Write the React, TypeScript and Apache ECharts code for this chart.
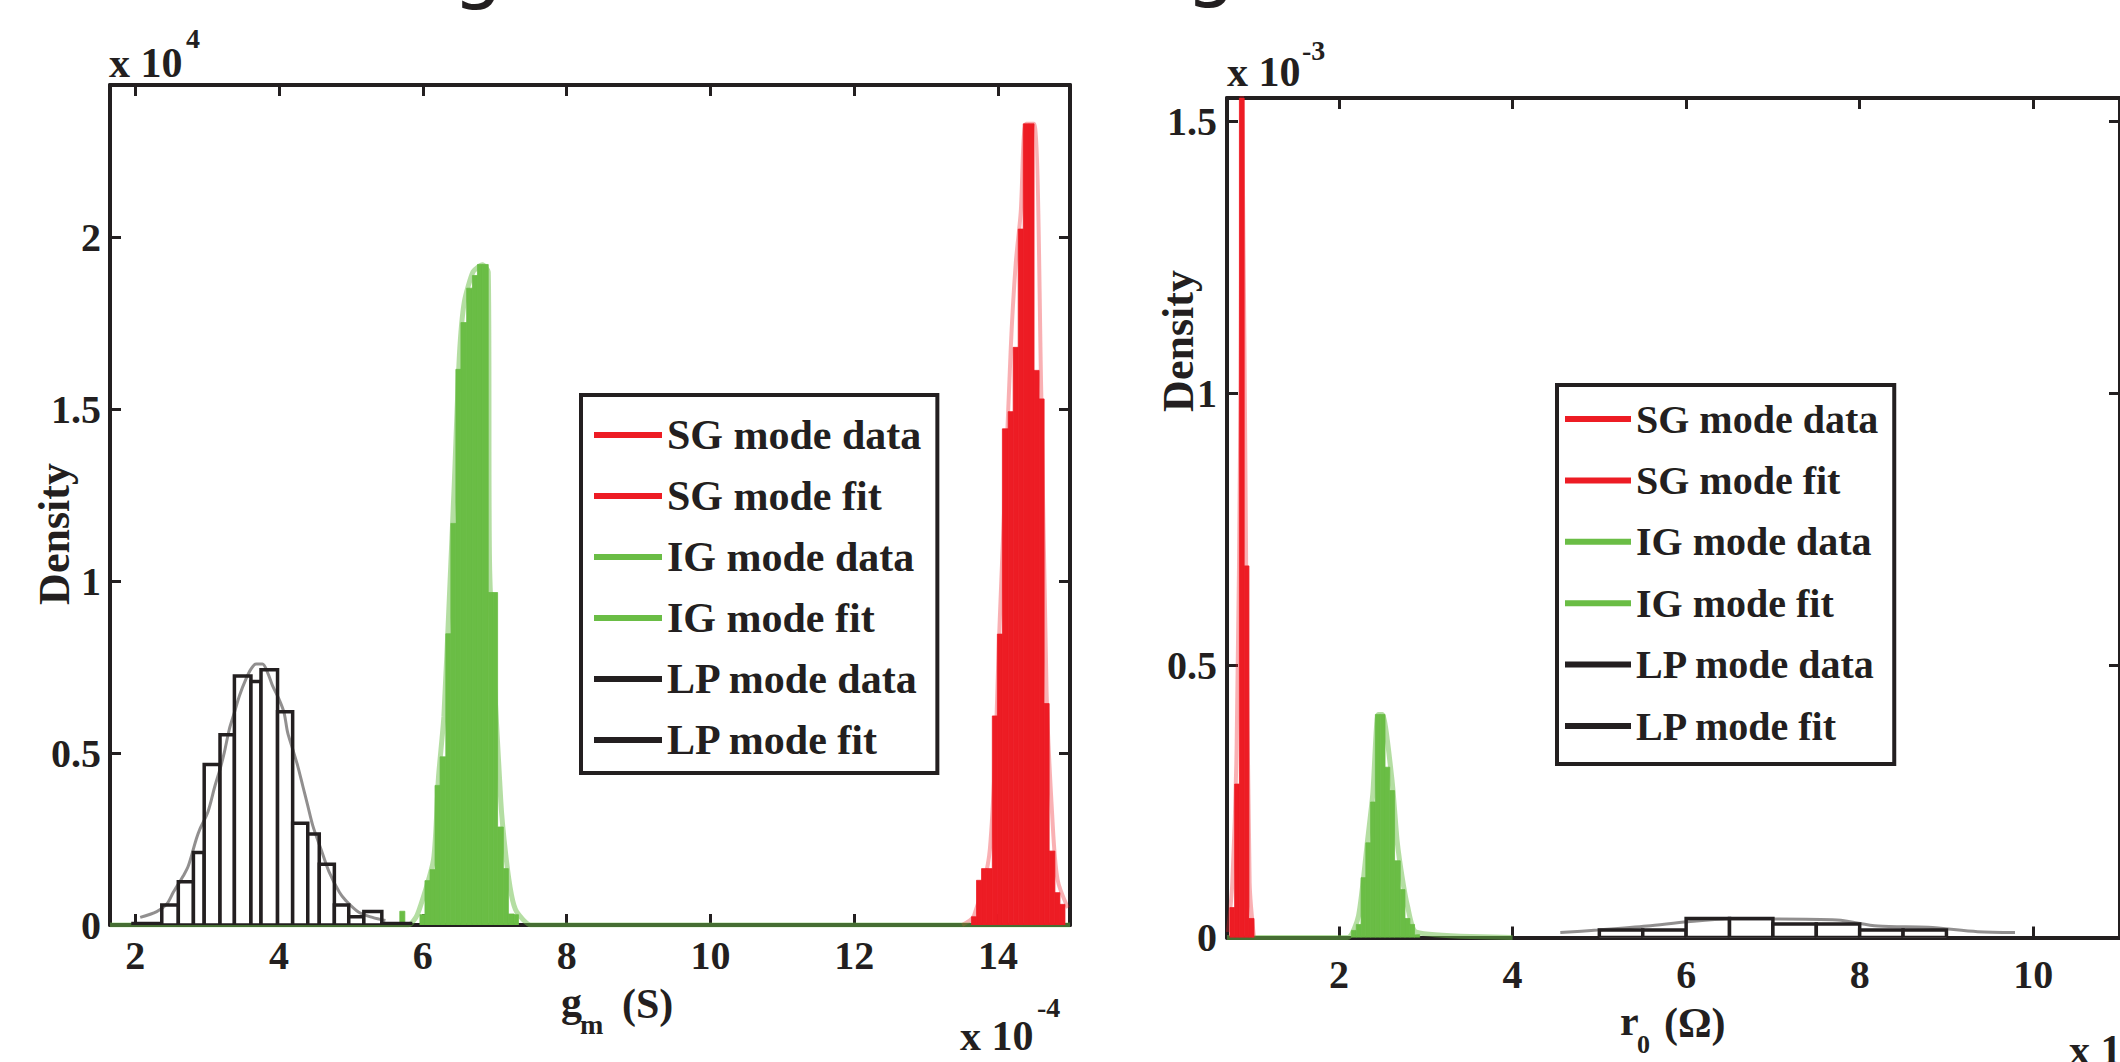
import React, { useEffect, useRef } from "react";
import * as echarts from "echarts";

type Bin = [number, number, number]; // [bin start, bin end, density]
type Pt = [number, number];

const RED = "#ed1c24";
const GREEN = "#6abd45";
const BLACK = "#231f20";
const SERIF = "'Liberation Serif', 'Times New Roman', serif";

const seriesNames = [
  "SG mode data",
  "SG mode fit",
  "IG mode data",
  "IG mode fit",
  "LP mode data",
  "LP mode fit",
];
const legendColors = [RED, RED, GREEN, GREEN, BLACK, BLACK];

// ---------- Left panel: g_m (x 10^-4 S), density x 10^4 ----------
const gmSGData: Bin[] = [
  [13.63, 13.7, 0.024],
  [13.7, 13.77, 0.13],
  [13.77, 13.84, 0.164],
  [13.84, 13.92, 0.164],
  [13.92, 13.99, 0.608],
  [13.99, 14.06, 0.846],
  [14.06, 14.14, 1.443],
  [14.14, 14.21, 1.493],
  [14.21, 14.28, 1.68],
  [14.28, 14.35, 2.024],
  [14.35, 14.43, 2.33],
  [14.43, 14.5, 2.33],
  [14.5, 14.57, 1.613],
  [14.57, 14.64, 1.53],
  [14.64, 14.71, 0.644],
  [14.71, 14.79, 0.215],
  [14.79, 14.86, 0.094],
  [14.86, 14.93, 0.06],
];
const gmSGFit: Pt[] = [
  [13.5, 0],
  [13.665, 0.027],
  [13.886, 0.221],
  [14.024, 0.891],
  [14.176, 1.676],
  [14.245, 1.923],
  [14.314, 2.07],
  [14.39, 2.33],
  [14.5, 2.33],
  [14.6, 1.55],
  [14.674, 0.679],
  [14.752, 0.321],
  [14.826, 0.133],
  [14.97, 0.05],
];
const gmIGData: Bin[] = [
  [5.68, 5.75, 0.04],
  [5.96, 6.03, 0.03],
  [6.03, 6.1, 0.129],
  [6.1, 6.17, 0.161],
  [6.17, 6.24, 0.406],
  [6.24, 6.32, 0.489],
  [6.32, 6.39, 0.847],
  [6.39, 6.46, 1.168],
  [6.46, 6.53, 1.616],
  [6.53, 6.61, 1.752],
  [6.61, 6.69, 1.852],
  [6.69, 6.76, 1.889],
  [6.76, 6.83, 1.921],
  [6.83, 6.91, 1.921],
  [6.91, 6.98, 0.967],
  [6.98, 7.04, 0.967],
  [7.04, 7.12, 0.285],
  [7.12, 7.19, 0.164],
  [7.19, 7.27, 0.032],
  [7.27, 7.33, 0.03],
];
const gmIGFit: Pt[] = [
  [1.65, 0],
  [5.8, 0],
  [5.924, 0.03],
  [6.149, 0.19],
  [6.218, 0.43],
  [6.293, 0.606],
  [6.37, 0.956],
  [6.44, 1.294],
  [6.509, 1.657],
  [6.578, 1.813],
  [6.7, 1.9],
  [6.83, 1.92],
  [6.91, 1.9],
  [6.93, 1.03],
  [7.085, 0.359],
  [7.154, 0.203],
  [7.233, 0.087],
  [7.306, 0.038],
  [7.5, 0],
  [15, 0],
];
const gmLPData: Bin[] = [
  [1.97, 2.37, 0.004],
  [2.37, 2.6, 0.058],
  [2.6, 2.81, 0.126],
  [2.81, 2.96, 0.211],
  [2.96, 3.18, 0.467],
  [3.18, 3.38, 0.553],
  [3.38, 3.61, 0.724],
  [3.61, 3.75, 0.708],
  [3.75, 3.98, 0.742],
  [3.98, 4.19, 0.62],
  [4.19, 4.4, 0.296],
  [4.4, 4.56, 0.265],
  [4.56, 4.77, 0.177],
  [4.77, 4.97, 0.058],
  [4.97, 5.18, 0.024],
  [5.18, 5.43, 0.039],
  [5.43, 5.83, 0.004],
];
const gmLPFit: Pt[] = [
  [2.07, 0.022],
  [2.3, 0.039],
  [2.44, 0.061],
  [2.53, 0.095],
  [2.67, 0.143],
  [2.74, 0.172],
  [2.85, 0.25],
  [2.9, 0.279],
  [3.01, 0.328],
  [3.11, 0.405],
  [3.18, 0.453],
  [3.24, 0.502],
  [3.31, 0.57],
  [3.38, 0.618],
  [3.45, 0.667],
  [3.54, 0.715],
  [3.61, 0.744],
  [3.68, 0.759],
  [3.77, 0.759],
  [3.84, 0.735],
  [3.91, 0.696],
  [4.0, 0.657],
  [4.07, 0.618],
  [4.12, 0.56],
  [4.19, 0.512],
  [4.26, 0.463],
  [4.33, 0.405],
  [4.4, 0.347],
  [4.47, 0.289],
  [4.6, 0.211],
  [4.7, 0.153],
  [4.84, 0.095],
  [4.93, 0.071],
  [5.11, 0.037],
  [5.3, 0.022],
  [5.48, 0.013],
];

// ---------- Right panel: r_0 (x 10^-4 ohm), density x 10^-3 ----------
const r0SGData: Bin[] = [
  [0.742, 0.797, 0.055],
  [0.797, 0.852, 0.282],
  [0.852, 0.907, 1.6],
  [0.907, 0.962, 0.683],
  [0.962, 1.02, 0.035],
];
const r0SGFit: Pt[] = [
  [0.72, 0.01],
  [0.77, 0.1],
  [0.82, 0.35],
  [0.865, 1.0],
  [0.88, 1.6],
  [0.93, 0.68],
  [0.97, 0.1],
  [1.02, 0],
];
const r0IGData: Bin[] = [
  [2.143, 2.199, 0.013],
  [2.199, 2.254, 0.024],
  [2.254, 2.309, 0.11],
  [2.309, 2.364, 0.174],
  [2.364, 2.419, 0.249],
  [2.419, 2.474, 0.41],
  [2.474, 2.53, 0.41],
  [2.53, 2.585, 0.313],
  [2.585, 2.64, 0.27],
  [2.64, 2.706, 0.141],
  [2.706, 2.76, 0.088],
  [2.76, 2.817, 0.035],
  [2.817, 2.87, 0.024],
  [2.87, 2.93, 0.005],
];
const r0IGFit: Pt[] = [
  [0.709, 0],
  [2.1, 0],
  [2.225, 0.04],
  [2.33, 0.18],
  [2.39, 0.265],
  [2.45, 0.41],
  [2.5, 0.41],
  [2.61, 0.29],
  [2.67, 0.177],
  [2.73, 0.108],
  [2.79, 0.057],
  [2.89, 0.01],
  [4.0, 0],
];
const r0LPData: Bin[] = [
  [5.0, 5.5, 0.0138],
  [5.5, 6.0, 0.0138],
  [6.0, 6.5, 0.035],
  [6.5, 7.0, 0.035],
  [7.0, 7.5, 0.0248],
  [7.5, 8.0, 0.0248],
  [8.0, 8.5, 0.0138],
  [8.5, 9.0, 0.0138],
];
const r0LPFit: Pt[] = [
  [4.55, 0.009],
  [4.98, 0.0138],
  [5.55, 0.021],
  [6.02, 0.029],
  [6.49, 0.034],
  [7.03, 0.034],
  [7.74, 0.032],
  [8.21, 0.021],
  [8.79, 0.0187],
  [9.36, 0.0107],
  [9.79, 0.009],
];

const makeHist = (
  name: string,
  data: Bin[],
  ai: number,
  fill: string,
  stroke: string,
  lineWidth: number,
  legendColor: string
) => ({
  type: "custom",
  name,
  xAxisIndex: ai,
  yAxisIndex: ai,
  z: 2,
  clip: true,
  silent: true,
  itemStyle: { color: legendColor },
  encode: { x: [0, 1], y: 2 },
  data,
  renderItem: (_params: any, api: any) => {
    const a = api.coord([api.value(0), api.value(2)]);
    const b = api.coord([api.value(1), 0]);
    return {
      type: "rect",
      shape: { x: a[0], y: a[1], width: b[0] - a[0], height: b[1] - a[1] },
      style: { fill, stroke, lineWidth },
    };
  },
});

const makeLine = (
  name: string,
  data: Pt[],
  ai: number,
  color: string,
  width: number,
  opacity: number,
  z: number,
  smooth: number
) => ({
  type: "line",
  name,
  xAxisIndex: ai,
  yAxisIndex: ai,
  data,
  showSymbol: false,
  symbol: "none",
  smooth,
  z,
  clip: true,
  silent: true,
  itemStyle: { color },
  lineStyle: { color, width, opacity },
});

const axisLine = { show: true, onZero: false, lineStyle: { color: BLACK, width: 4 } };
const axisTick = { show: true, inside: true, length: 11, lineStyle: { color: BLACK, width: 3 } };
const labelBase = { fontFamily: SERIF, fontWeight: "bold", fontSize: 40, color: BLACK };

const txt = (
  text: string,
  x: number,
  y: number,
  fontSize: number,
  align = "left",
  rotation = 0,
  fontFamily = SERIF,
  fontWeight = "bold"
) => ({
  type: "text",
  x,
  y,
  rotation,
  silent: true,
  z: 20,
  style: {
    text,
    fontSize,
    fontFamily,
    fontWeight,
    fill: BLACK,
    align,
    verticalAlign: "middle",
  },
});

export default function App() {
  const ref = useRef<HTMLDivElement>(null);

  useEffect(() => {
    document.body.style.margin = "0";
    if (!ref.current) return;
    const chart = echarts.init(ref.current, undefined, { renderer: "svg" });

    const legendData = seriesNames.map((name, i) => ({
      name,
      icon: "rect",
      itemStyle: { color: legendColors[i], borderWidth: 0 },
    }));

    const option: any = {
      animation: false,
      backgroundColor: "#ffffff",
      grid: [
        { left: 110, top: 85, width: 960, height: 840 },
        { left: 1227, top: 98, width: 932.6, height: 839.5 },
      ],
      xAxis: [
        {
          type: "value", gridIndex: 0, position: "bottom", min: 1.65, max: 15,
          splitNumber: 7, minInterval: 2, maxInterval: 2,
          axisLine, axisTick, splitLine: { show: false },
          axisLabel: { ...labelBase, margin: 10, showMinLabel: false, showMaxLabel: false },
        },
        {
          type: "value", gridIndex: 0, position: "top", min: 1.65, max: 15,
          splitNumber: 7, minInterval: 2, maxInterval: 2,
          axisLine, axisTick, splitLine: { show: false }, axisLabel: { show: false },
        },
        {
          type: "value", gridIndex: 1, position: "bottom", min: 0.709, max: 11,
          splitNumber: 5, minInterval: 2, maxInterval: 2,
          axisLine, axisTick, splitLine: { show: false },
          axisLabel: { ...labelBase, margin: 17, showMinLabel: false, showMaxLabel: false },
        },
        {
          type: "value", gridIndex: 1, position: "top", min: 0.709, max: 11,
          splitNumber: 5, minInterval: 2, maxInterval: 2,
          axisLine, axisTick, splitLine: { show: false }, axisLabel: { show: false },
        },
      ],
      yAxis: [
        {
          type: "value", gridIndex: 0, position: "left", min: 0, max: 2.443, interval: 0.5,
          axisLine, axisTick, splitLine: { show: false },
          axisLabel: { ...labelBase, margin: 9, showMinLabel: true, showMaxLabel: false },
        },
        {
          type: "value", gridIndex: 0, position: "right", min: 0, max: 2.443, interval: 0.5,
          axisLine, axisTick, splitLine: { show: false }, axisLabel: { show: false },
        },
        {
          type: "value", gridIndex: 1, position: "left", min: 0, max: 1.543, interval: 0.5,
          axisLine, axisTick, splitLine: { show: false },
          axisLabel: { ...labelBase, margin: 10, showMinLabel: true, showMaxLabel: false },
        },
        {
          type: "value", gridIndex: 1, position: "right", min: 0, max: 1.543, interval: 0.5,
          axisLine, axisTick, splitLine: { show: false }, axisLabel: { show: false },
        },
      ],
      legend: [
        {
          left: 581, top: 395, orient: "vertical",
          itemWidth: 68, itemHeight: 6, itemGap: 17,
          padding: [18, 16, 11, 13],
          borderColor: BLACK, borderWidth: 4, backgroundColor: "#ffffff",
          selectedMode: false, z: 10,
          textStyle: { fontFamily: SERIF, fontWeight: "bold", fontSize: 42, color: BLACK, lineHeight: 44 },
          data: legendData,
        },
        {
          left: 1557, top: 385, orient: "vertical",
          itemWidth: 66, itemHeight: 6, itemGap: 17.4,
          padding: [12, 16, 16, 8],
          borderColor: BLACK, borderWidth: 4, backgroundColor: "#ffffff",
          selectedMode: false, z: 10,
          textStyle: { fontFamily: SERIF, fontWeight: "bold", fontSize: 40, color: BLACK, lineHeight: 44 },
          data: legendData,
        },
      ],
      series: [
        // left panel
        makeHist("SG mode data", gmSGData, 0, RED, RED, 0.8, RED),
        makeLine("SG mode fit", gmSGFit, 0, RED, 4, 0.35, 1, 0.3),
        makeHist("IG mode data", gmIGData, 0, GREEN, GREEN, 0.8, GREEN),
        makeLine("IG mode fit", gmIGFit, 0, GREEN, 5, 0.5, 1, 0.2),
        makeHist("LP mode data", gmLPData, 0, "#ffffff", BLACK, 3.5, BLACK),
        makeLine("LP mode fit", gmLPFit, 0, BLACK, 3, 0.5, 3, 0.3),
        // right panel
        makeHist("SG mode data", r0SGData, 2, RED, RED, 0.8, RED),
        makeLine("SG mode fit", r0SGFit, 2, RED, 4, 0.35, 1, 0.3),
        makeHist("IG mode data", r0IGData, 2, GREEN, GREEN, 0.8, GREEN),
        makeLine("IG mode fit", r0IGFit, 2, GREEN, 5, 0.5, 1, 0.2),
        makeHist("LP mode data", r0LPData, 2, "#ffffff", BLACK, 3.5, BLACK),
        makeLine("LP mode fit", r0LPFit, 2, BLACK, 3, 0.5, 3, 0.3),
      ],
      graphic: [
        // cut-off title glyphs at the very top
        txt("g", 478, -35, 80, "center", 0, "'DejaVu Sans', sans-serif", "normal"),
        txt("g", 1211, -37, 80, "center", 0, "'DejaVu Sans', sans-serif", "normal"),
        // exponent labels
        txt("x 10", 109, 63, 42),
        txt("4", 186, 38, 28),
        txt("x 10", 960, 1036, 42),
        txt("-4", 1037, 1007, 28),
        txt("x 10", 1227, 72, 42),
        txt("-3", 1302, 50, 28),
        txt("x 10", 2069, 1050, 42),
        // y-axis names
        txt("Density", 54, 534, 44, "center", Math.PI / 2),
        txt("Density", 1178, 341, 44, "center", Math.PI / 2),
        // x-axis names
        txt("g", 561, 1002, 42),
        txt("m", 580, 1024, 28),
        txt("(S)", 622, 1004, 42),
        txt("r", 1620, 1021, 42),
        txt("0", 1637, 1044, 26),
        txt("(Ω)", 1664, 1023, 42),
      ],
    };

    chart.setOption(option);
    return () => chart.dispose();
  }, []);

  return <div ref={ref} style={{ width: 2120, height: 1062 }} />;
}
